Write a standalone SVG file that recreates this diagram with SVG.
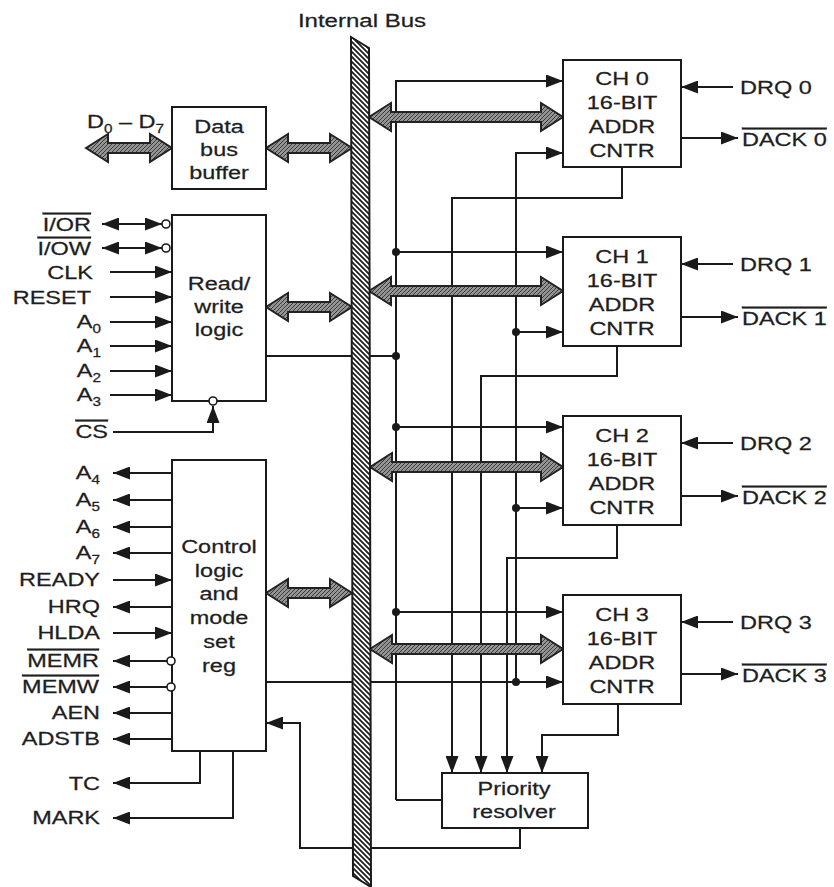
<svg xmlns="http://www.w3.org/2000/svg" width="834" height="887" viewBox="0 0 834 887">
<defs>
<style>
text { font-family: "Liberation Sans", Arial, sans-serif; font-size: 18.5px; fill: #1e1e1e; stroke: #1e1e1e; stroke-width: 0.25px; }
.c { text-anchor: middle; }
.e { text-anchor: end; }
.sub { font-size: 12px; }
.ov { text-decoration: overline; }
.box { fill: #fff; stroke: #1a1a1a; stroke-width: 2; }
.w { fill: none; stroke: #1a1a1a; stroke-width: 2; }
.a { marker-end: url(#ah); }
.aa { marker-start: url(#ah); marker-end: url(#ah); }
.fat { fill: url(#fh); stroke: #222; stroke-width: 2; stroke-linejoin: miter; }
.dot { fill: #1a1a1a; }
.bub { fill: #fff; stroke: #1a1a1a; stroke-width: 1.6; }
</style>
<marker id="ah" viewBox="0 0 17 13" markerWidth="17" markerHeight="13" refX="17" refY="6.5" orient="auto-start-reverse" markerUnits="userSpaceOnUse"><path d="M0,0 L17,6.5 L0,13 z" fill="#1a1a1a"/></marker>
<pattern id="bh" width="5" height="5" patternUnits="userSpaceOnUse"><rect width="5" height="5" fill="#fff"/><path d="M0,0 L5,5 M-1,4 L1,6 M4,-1 L6,1" stroke="#1a1a1a" stroke-width="1.7"/></pattern>
<pattern id="fh" width="4" height="4" patternUnits="userSpaceOnUse"><rect width="4" height="4" fill="#949494"/><path d="M0,4 L4,0 M-1,1 L1,-1 M3,5 L5,3" stroke="#3a3a3a" stroke-width="1"/></pattern>
</defs>
<rect width="834" height="887" fill="#fff"/>

<g id="connectors">
  <!-- read/write logic inputs -->
  <path class="w aa" d="M102,224 H162"/>
  <path class="w aa" d="M102,248 H162"/>
  <path class="w a" d="M110,272 H172"/>
  <path class="w a" d="M110,297 H172"/>
  <path class="w a" d="M110,322 H172"/>
  <path class="w a" d="M110,346 H172"/>
  <path class="w a" d="M110,371 H172"/>
  <path class="w a" d="M110,395 H172"/>
  <path class="w a" d="M113,432 H213 V406"/>
  <path class="w" d="M266,356 H396"/>
  <!-- control logic signals -->
  <path class="w a" d="M172,473 H113"/>
  <path class="w a" d="M172,500 H113"/>
  <path class="w a" d="M172,527 H113"/>
  <path class="w a" d="M172,553 H113"/>
  <path class="w a" d="M113,580 H172"/>
  <path class="w a" d="M172,607 H113"/>
  <path class="w a" d="M113,633 H172"/>
  <path class="w a" d="M167,661 H113"/>
  <path class="w a" d="M167,687 H113"/>
  <path class="w a" d="M172,713 H113"/>
  <path class="w a" d="M172,739 H113"/>
  <path class="w a" d="M200,751 V783 H113"/>
  <path class="w a" d="M233,751 V818 H113"/>
  <path class="w a" d="M520,828 V848 H300 V723 H266"/>
  <path class="w a" d="M266,682 H563"/>
  <!-- channel request lines -->
  <path class="w a" d="M396,800 V81 H563"/>
  <path class="w" d="M396,800 H442"/>
  <path class="w a" d="M396,252 H563"/>
  <path class="w a" d="M396,427 H563"/>
  <path class="w a" d="M396,612 H563"/>
  <path class="w a" d="M516,682 V153 H563"/>
  <path class="w a" d="M516,332 H563"/>
  <path class="w a" d="M516,508 H563"/>
  <!-- channel outputs to priority resolver -->
  <path class="w a" d="M622,167 V198 H452 V773"/>
  <path class="w a" d="M617,346 V376 H481 V773"/>
  <path class="w a" d="M617,525 V558 H507 V773"/>
  <path class="w a" d="M618,704 V735 H542 V773"/>
  <!-- DRQ / DACK -->
  <path class="w a" d="M733,87 H681"/>
  <path class="w a" d="M681,138 H738"/>
  <path class="w a" d="M733,264 H681"/>
  <path class="w a" d="M681,317 H738"/>
  <path class="w a" d="M733,443 H681"/>
  <path class="w a" d="M681,496 H738"/>
  <path class="w a" d="M733,622 H681"/>
  <path class="w a" d="M681,674 H738"/>
  <!-- junction dots -->
  <circle class="dot" cx="396" cy="252" r="4"/>
  <circle class="dot" cx="396" cy="356" r="4"/>
  <circle class="dot" cx="396" cy="427" r="4"/>
  <circle class="dot" cx="396" cy="612" r="4"/>
  <circle class="dot" cx="516" cy="332" r="4"/>
  <circle class="dot" cx="516" cy="508" r="4"/>
  <circle class="dot" cx="516" cy="682" r="4"/>
  <!-- bus arrows -->
  <polygon class="fat" points="86,148 108,134 108,143 150,143 150,134 172,148 150,162 150,153 108,153 108,162"/>
  <polygon class="fat" points="266,148 288,134 288,143 330,143 330,134 352,148 330,162 330,153 288,153 288,162"/>
  <polygon class="fat" points="266,307 288,293 288,302 330,302 330,293 352,307 330,321 330,312 288,312 288,321"/>
  <polygon class="fat" points="266,593 288,579 288,588 330,588 330,579 352,593 330,607 330,598 288,598 288,607"/>
  <polygon class="fat" points="369,117 391,103 391,112 541,112 541,103 563,117 541,131 541,122 391,122 391,131"/>
  <polygon class="fat" points="369,291 391,277 391,286 541,286 541,277 563,291 541,305 541,296 391,296 391,305"/>
  <polygon class="fat" points="370,467 392,453 392,462 541,462 541,453 563,467 541,481 541,472 392,472 392,481"/>
  <polygon class="fat" points="370,649 392,635 392,644 541,644 541,635 563,649 541,663 541,654 392,654 392,663"/>
</g>

<g id="internal-bus">
  <polygon points="351,37 369,48 371,887 353,876" fill="url(#bh)" stroke="#1a1a1a" stroke-width="2"/>
  <text class="c" transform="translate(362,27) scale(1.3,1)">Internal Bus</text>
</g>

<g id="data-bus-buffer">
  <rect class="box" x="172" y="107" width="94" height="82"/>
  <text class="c" transform="translate(219,133) scale(1.27,1)">Data</text>
  <text class="c" transform="translate(219,156) scale(1.27,1)">bus</text>
  <text class="c" transform="translate(219,179) scale(1.27,1)">buffer</text>
</g>

<g id="read-write-logic">
  <rect class="box" x="172" y="215" width="94" height="186"/>
  <circle class="bub" cx="166" cy="224" r="4"/>
  <circle class="bub" cx="166" cy="248" r="4"/>
  <circle class="bub" cx="213" cy="401" r="4"/>
  <text class="c" transform="translate(219,290) scale(1.27,1)">Read/</text>
  <text class="c" transform="translate(219,313) scale(1.27,1)">write</text>
  <text class="c" transform="translate(219,336) scale(1.27,1)">logic</text>
</g>

<g id="control-logic">
  <rect class="box" x="172" y="460" width="94" height="291"/>
  <circle class="bub" cx="171" cy="661" r="4"/>
  <circle class="bub" cx="171" cy="687" r="4"/>
  <text class="c" transform="translate(219,553) scale(1.27,1)">Control</text>
  <text class="c" transform="translate(219,577) scale(1.27,1)">logic</text>
  <text class="c" transform="translate(219,600) scale(1.27,1)">and</text>
  <text class="c" transform="translate(219,624) scale(1.27,1)">mode</text>
  <text class="c" transform="translate(219,648) scale(1.27,1)">set</text>
  <text class="c" transform="translate(219,672) scale(1.27,1)">reg</text>
</g>

<g id="ch0">
  <rect class="box" x="563" y="60" width="118" height="107"/>
  <text class="c" transform="translate(622,85) scale(1.27,1)">CH 0</text>
  <text class="c" transform="translate(622,109) scale(1.27,1)">16-BIT</text>
  <text class="c" transform="translate(622,133) scale(1.27,1)">ADDR</text>
  <text class="c" transform="translate(622,157) scale(1.27,1)">CNTR</text>
</g>
<g id="ch1">
  <rect class="box" x="563" y="237" width="118" height="109"/>
  <text class="c" transform="translate(622,263) scale(1.27,1)">CH 1</text>
  <text class="c" transform="translate(622,287) scale(1.27,1)">16-BIT</text>
  <text class="c" transform="translate(622,311) scale(1.27,1)">ADDR</text>
  <text class="c" transform="translate(622,335) scale(1.27,1)">CNTR</text>
</g>
<g id="ch2">
  <rect class="box" x="563" y="416" width="118" height="109"/>
  <text class="c" transform="translate(622,442) scale(1.27,1)">CH 2</text>
  <text class="c" transform="translate(622,466) scale(1.27,1)">16-BIT</text>
  <text class="c" transform="translate(622,490) scale(1.27,1)">ADDR</text>
  <text class="c" transform="translate(622,514) scale(1.27,1)">CNTR</text>
</g>
<g id="ch3">
  <rect class="box" x="563" y="595" width="118" height="109"/>
  <text class="c" transform="translate(622,621) scale(1.27,1)">CH 3</text>
  <text class="c" transform="translate(622,645) scale(1.27,1)">16-BIT</text>
  <text class="c" transform="translate(622,669) scale(1.27,1)">ADDR</text>
  <text class="c" transform="translate(622,693) scale(1.27,1)">CNTR</text>
</g>

<g id="priority-resolver">
  <rect class="box" x="442" y="773" width="146" height="55"/>
  <text class="c" transform="translate(514,795) scale(1.27,1)">Priority</text>
  <text class="c" transform="translate(514,818) scale(1.27,1)">resolver</text>
</g>

<g id="signal-labels">
  <text transform="translate(87,128) scale(1.27,1)">D<tspan class="sub" dy="5">0</tspan><tspan dy="-5"> – D</tspan><tspan class="sub" dy="5">7</tspan></text>
  <text class="e ov" transform="translate(91,231) scale(1.27,1)">I/OR</text>
  <text class="e ov" transform="translate(91,255) scale(1.27,1)">I/OW</text>
  <text class="e" transform="translate(93,279) scale(1.27,1)">CLK</text>
  <text class="e" transform="translate(91,304) scale(1.27,1)">RESET</text>
  <text class="e" transform="translate(101,328) scale(1.27,1)">A<tspan class="sub" dy="5">0</tspan></text>
  <text class="e" transform="translate(101,352) scale(1.27,1)">A<tspan class="sub" dy="5">1</tspan></text>
  <text class="e" transform="translate(101,377) scale(1.27,1)">A<tspan class="sub" dy="5">2</tspan></text>
  <text class="e" transform="translate(101,401) scale(1.27,1)">A<tspan class="sub" dy="5">3</tspan></text>
  <text class="e ov" transform="translate(108,438) scale(1.27,1)">CS</text>
  <text class="e" transform="translate(100,479) scale(1.27,1)">A<tspan class="sub" dy="5">4</tspan></text>
  <text class="e" transform="translate(100,506) scale(1.27,1)">A<tspan class="sub" dy="5">5</tspan></text>
  <text class="e" transform="translate(100,533) scale(1.27,1)">A<tspan class="sub" dy="5">6</tspan></text>
  <text class="e" transform="translate(100,559) scale(1.27,1)">A<tspan class="sub" dy="5">7</tspan></text>
  <text class="e" transform="translate(100,586) scale(1.27,1)">READY</text>
  <text class="e" transform="translate(100,613) scale(1.27,1)">HRQ</text>
  <text class="e" transform="translate(100,639) scale(1.27,1)">HLDA</text>
  <text class="e ov" transform="translate(99,667) scale(1.27,1)">MEMR</text>
  <text class="e ov" transform="translate(99,693) scale(1.27,1)">MEMW</text>
  <text class="e" transform="translate(100,719) scale(1.27,1)">AEN</text>
  <text class="e" transform="translate(100,745) scale(1.27,1)">ADSTB</text>
  <text class="e" transform="translate(100,790) scale(1.27,1)">TC</text>
  <text class="e" transform="translate(100,824) scale(1.27,1)">MARK</text>
  <text transform="translate(740,94) scale(1.27,1)">DRQ 0</text>
  <text class="ov" transform="translate(742,146) scale(1.27,1)">DACK 0</text>
  <text transform="translate(740,271) scale(1.27,1)">DRQ 1</text>
  <text class="ov" transform="translate(742,325) scale(1.27,1)">DACK 1</text>
  <text transform="translate(740,450) scale(1.27,1)">DRQ 2</text>
  <text class="ov" transform="translate(742,504) scale(1.27,1)">DACK 2</text>
  <text transform="translate(740,629) scale(1.27,1)">DRQ 3</text>
  <text class="ov" transform="translate(742,682) scale(1.27,1)">DACK 3</text>
</g>
</svg>
